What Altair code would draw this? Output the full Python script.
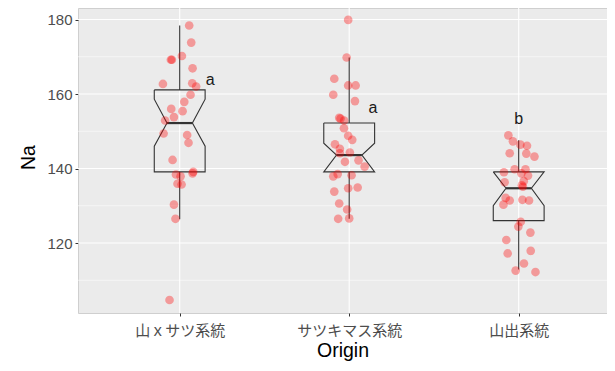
import altair as alt
import pandas as pd

categories = ["山ｘサツ系統", "サツキマス系統", "山出系統"]

# jittered observations: Na value and horizontal jitter (category units)
g1_na = [178.4, 173.8, 170.2, 169.2, 169.2, 166.9, 162.7, 162.9, 162.0, 159.8,
         157.9, 156.0, 155.4, 153.8, 152.9, 149.4, 149.0, 146.9, 142.3, 138.4,
         137.9, 139.1, 138.7, 135.9, 135.7, 130.3, 126.5, 104.7]
g1_dx = [0.056, 0.068, 0.013, -0.052, -0.046, 0.076, -0.099, 0.074, 0.097, 0.064,
         0.027, -0.050, 0.017, -0.034, -0.086, -0.095, 0.044, 0.052, -0.042, -0.022,
         0.005, 0.080, 0.076, -0.013, 0.011, -0.034, -0.025, -0.060]

g2_na = [179.9, 169.8, 164.1, 162.3, 162.3, 159.8, 158.1, 153.6, 153.4, 152.9,
         150.8, 148.8, 147.7, 146.5, 145.3, 144.1, 144.3, 141.8, 142.2, 140.5,
         138.5, 137.9, 138.2, 134.7, 134.9, 133.8, 130.6, 129.0, 126.5, 126.6]
g2_dx = [-0.006, -0.015, -0.088, -0.006, 0.038, -0.094, 0.034, -0.059, -0.051, -0.030,
         -0.031, -0.006, 0.018, -0.084, -0.055, -0.055, 0.004, -0.025, 0.055, 0.091,
         -0.068, -0.094, 0.014, -0.006, 0.050, -0.088, -0.059, -0.012, -0.065, 0.000]

g3_na = [148.9, 147.3, 146.4, 146.1, 144.1, 144.0, 143.2, 139.0, 139.8, 139.8,
         138.7, 138.1, 136.3, 136.6, 135.5, 135.1, 132.1, 131.4, 130.3, 131.6,
         131.4, 125.7, 124.4, 122.8, 120.8, 117.9, 117.2, 114.5, 112.6, 112.2]
g3_dx = [-0.061, -0.034, 0.010, 0.049, -0.053, 0.045, 0.093, -0.087, -0.024, 0.040,
         0.016, 0.055, -0.083, 0.030, 0.019, 0.025, -0.077, -0.053, -0.090, 0.022,
         0.061, 0.012, -0.002, 0.069, -0.073, 0.071, -0.065, 0.031, -0.018, 0.099]

# notched box statistics
q1 = [139.1, 139.1, 126.0]
median = [152.2, 143.6, 134.7]
q3 = [161.1, 152.2, 139.1]
whisker_lo = [126.4, 126.5, 112.9]
whisker_hi = [178.4, 169.8, 147.6]
notch_lo = [146.0, 139.1, 130.0]
notch_hi = [158.6, 146.8, 139.1]

# significance letters
letters = ["a", "a", "b"]
letter_x = [1.18, 2.14, 3.0]
letter_y = [162.5, 154.9, 152.0]

major_ticks = [120, 140, 160, 180]
minor_ticks = [110, 130, 150, 170]

HW = 0.15  # half box width (category units)

# ---- tables ----
pts = []
for i, (na, dx) in enumerate([(g1_na, g1_dx), (g2_na, g2_dx), (g3_na, g3_dx)]):
    for v, d in zip(na, dx):
        pts.append({"x": i + 1 + d, "Na": v})
pts = pd.DataFrame(pts)

area_rows, outline_rows, stats_rows = [], [], []
for i in range(3):
    p = i + 1
    for y, w in [(q1[i], HW), (notch_lo[i], HW), (median[i], HW / 2),
                 (notch_hi[i], HW), (q3[i], HW)]:
        area_rows.append({"g": i, "y": y, "xl": p - w, "xr": p + w})
    verts = [(p - HW, q3[i]), (p + HW, q3[i]), (p + HW, notch_hi[i]),
             (p + HW / 2, median[i]), (p + HW, notch_lo[i]), (p + HW, q1[i]),
             (p - HW, q1[i]), (p - HW, notch_lo[i]), (p - HW / 2, median[i]),
             (p - HW, notch_hi[i]), (p - HW, q3[i])]
    for k, (vx, vy) in enumerate(verts):
        outline_rows.append({"g": i, "k": k, "x": vx, "y": vy})
    stats_rows.append({"p": p, "q1": q1[i], "q3": q3[i], "med": median[i],
                       "wlo": whisker_lo[i], "whi": whisker_hi[i],
                       "ml": p - HW / 2, "mr": p + HW / 2})
area_df = pd.DataFrame(area_rows)
outline_df = pd.DataFrame(outline_rows)
stats_df = pd.DataFrame(stats_rows)
letters_df = pd.DataFrame({"x": letter_x, "y": letter_y, "t": letters})
major_df = pd.DataFrame({"v": major_ticks})
minor_df = pd.DataFrame({"v": minor_ticks})
vgrid_df = pd.DataFrame({"p": [1, 2, 3]})

label_expr = " : ".join(
    f"datum.value == {i + 1} ? '{c}'" for i, c in enumerate(categories)) + " : ''"

xscale = alt.Scale(domain=[0.4, 3.521], nice=False, zero=False)
yscale = alt.Scale(domain=[101.21, 183.09], nice=False, zero=False)

xaxis = alt.Axis(title="Origin", values=[1, 2, 3], labelExpr=label_expr, grid=False,
                 domain=False, ticks=True, tickSize=3, tickColor="#333333", tickWidth=1,
                 labelFont="Noto Sans CJK JP", labelFontSize=15, labelColor="#4D4D4D",
                 labelPadding=7, titleFont="Liberation Sans", titleFontSize=19.5,
                 titleFontWeight="normal", titleColor="#000000",
                 titleBaseline="alphabetic", titleY=43)
yaxis = alt.Axis(title="Na", values=major_ticks, grid=False, domain=False, ticks=True,
                 tickSize=3, tickColor="#333333", tickWidth=1,
                 labelFont="Liberation Sans", labelFontSize=15, labelColor="#4D4D4D",
                 labelPadding=3, titleFont="Liberation Sans", titleFontSize=19.5,
                 titleFontWeight="normal", titleColor="#000000",
                 titleX=-49.5, titleY=149, titleBaseline="middle", titleAngle=270)


def X(field):
    return alt.X(field, type="quantitative", scale=xscale, axis=xaxis)


def Y(field):
    return alt.Y(field, type="quantitative", scale=yscale, axis=yaxis)


minor = alt.Chart(minor_df).mark_rule(color="white", strokeWidth=0.55).encode(y=Y("v"))
major = alt.Chart(major_df).mark_rule(color="white", strokeWidth=1.1).encode(y=Y("v"))
vgrid = alt.Chart(vgrid_df).mark_rule(color="white", strokeWidth=1.1).encode(x=X("p"))

whisk_hi = alt.Chart(stats_df).mark_rule(color="#333333", strokeWidth=1.1).encode(
    x=X("p"), y=Y("q3"), y2="whi")
whisk_lo = alt.Chart(stats_df).mark_rule(color="#333333", strokeWidth=1.1).encode(
    x=X("p"), y=Y("q1"), y2="wlo")

box_fill = alt.Chart(area_df).mark_area(orient="horizontal", color="white",
                                        opacity=1).encode(
    y=Y("y"), x=X("xl"), x2="xr", detail="g:N", order=alt.Order("y:Q"))
box_line = alt.Chart(outline_df).mark_line(color="#333333", strokeWidth=1.1).encode(
    x=X("x"), y=Y("y"), detail="g:N", order=alt.Order("k:Q"))
med = alt.Chart(stats_df).mark_rule(color="#333333", strokeWidth=2.2).encode(
    x=X("ml"), x2="mr", y=Y("med"))

points = alt.Chart(pts).mark_circle(color="#FF0000", opacity=0.35, size=75).encode(
    x=X("x"), y=Y("Na"))

text = alt.Chart(letters_df).mark_text(font="Liberation Sans", fontSize=16,
                                       color="#1A1A1A", baseline="alphabetic",
                                       align="center").encode(
    x=X("x"), y=Y("y"), text="t:N")

chart = alt.layer(minor, major, vgrid, whisk_hi, whisk_lo, box_fill, box_line, med,
                  points, text).properties(
    width=529, height=305,
    autosize=alt.AutoSizeParams(type="none"),
    padding={"left": 70, "top": 0, "right": 0, "bottom": 49},
).configure_view(fill="#EBEBEB", stroke="#CFCFCF", strokeWidth=1)

chart.save("out.html", embed_options={"renderer": "svg", "actions": False})
